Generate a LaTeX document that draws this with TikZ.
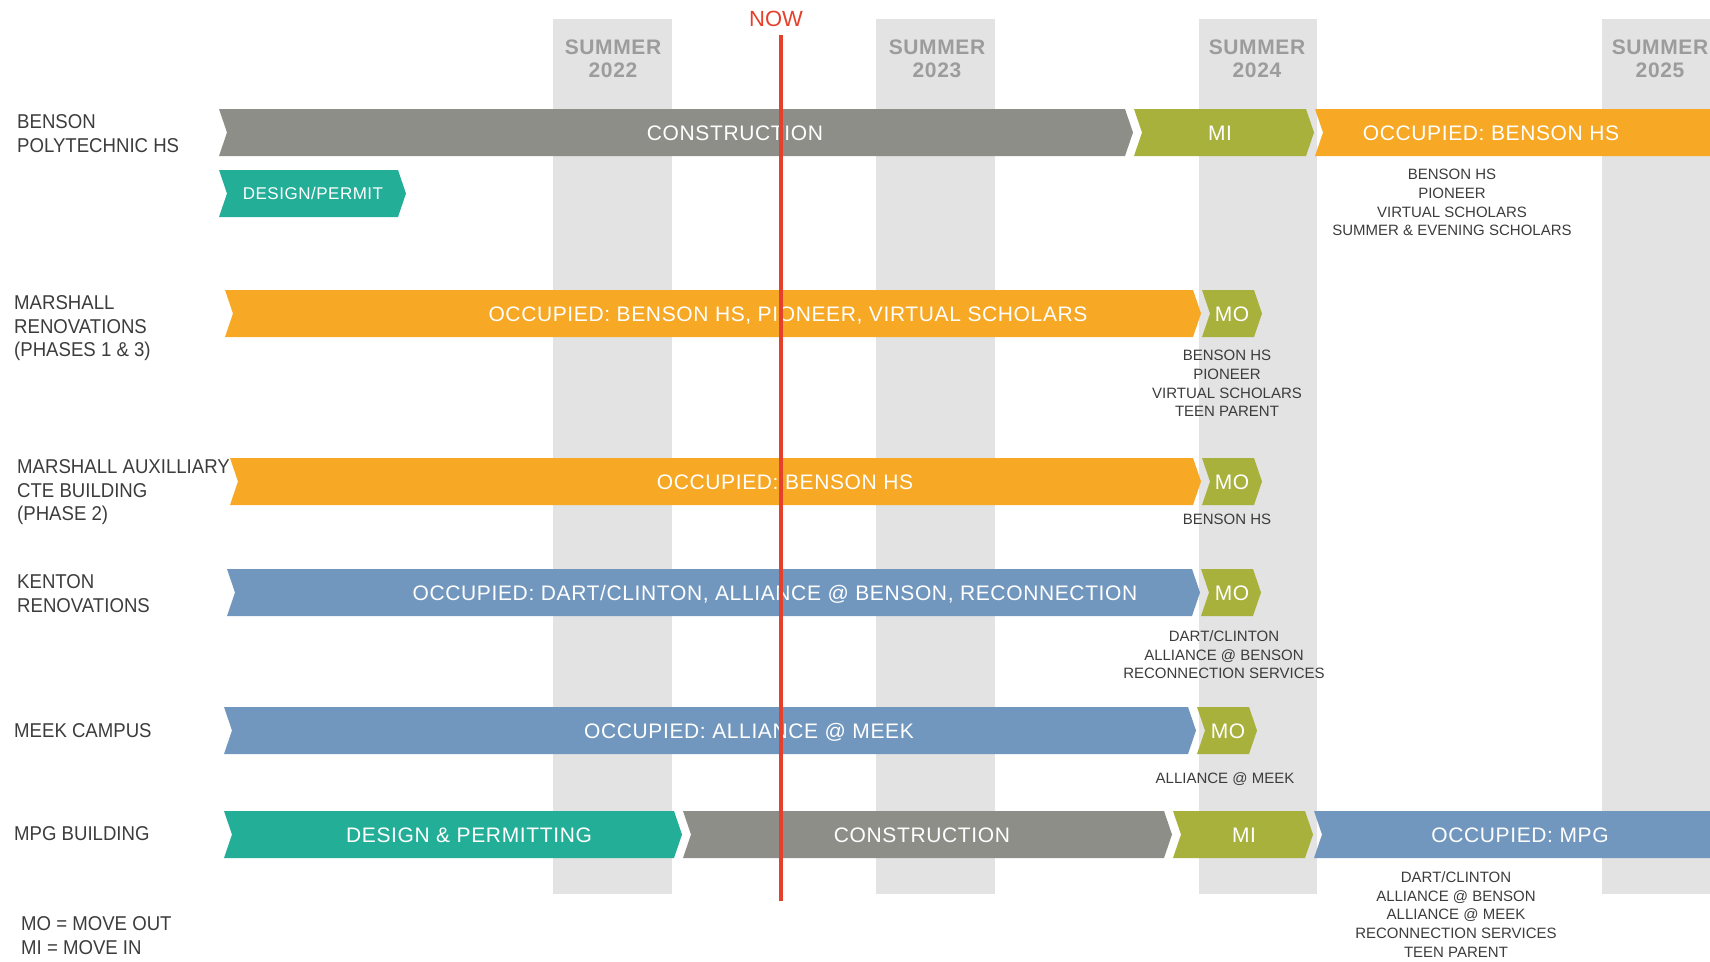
\documentclass[tikz,border=0pt]{standalone}
\usepackage{fontspec}
\setmainfont{Liberation Sans}
\newfontfamily\rowfont[FakeStretch=0.93]{Liberation Sans}
\newfontfamily\barfont[LetterSpace=3]{Liberation Sans}
\definecolor{colgray}{HTML}{E3E3E3}
\definecolor{bgray}{HTML}{8E8E89}
\definecolor{olive}{HTML}{A8B13B}
\definecolor{orange}{HTML}{F7A824}
\definecolor{teal}{HTML}{22AE97}
\definecolor{blue}{HTML}{7297BE}
\definecolor{nowred}{HTML}{E4402B}
\definecolor{txtgray}{HTML}{3C3C3C}
\definecolor{sumgray}{HTML}{9C9C9C}
\newcommand\chev[5]{%
  \fill[#1] (#2,#4) -- ({#3-8},#4) -- (#3,{(#4+#5)/2}) -- ({#3-8},#5) -- (#2,#5) -- ({#2+8},{(#4+#5)/2}) -- cycle;}
\begin{document}
\begin{tikzpicture}[x=1pt,y=-1pt,
  rowlabel/.style={anchor=north west,align=left,inner sep=0pt,text=txtgray,font=\rowfont\fontsize{20}{23.5}\selectfont},
  bartext/.style={inner sep=0pt,text=white,text height=15.3pt,text depth=0pt,anchor=center,font=\barfont\fontsize{21}{24}\selectfont},
  smallbar/.style={bartext,text height=12.4pt,font=\barfont\fontsize{17}{20}\selectfont},
  note/.style={anchor=north,align=center,inner sep=0pt,text=txtgray,font=\fontsize{15}{18.7}\selectfont},
  sumlabel/.style={anchor=north,align=center,inner sep=0pt,text=sumgray,font=\barfont\bfseries\fontsize{21}{23}\selectfont},
  col/.style={fill=colgray,draw=none},
  nowline/.style={draw=nowred,line width=4.5pt}
]
\useasboundingbox (0,0) rectangle (1710,961);
\clip (0,0) rectangle (1710,961);
% summer columns
\fill[col] (553,19) rectangle (672,894);
\fill[col] (876,19) rectangle (995,894);
\fill[col] (1199,19) rectangle (1317,894);
\fill[col] (1602,19) rectangle (1721,894);
\node[sumlabel] (s22) at (613,39.5) {SUMMER\\2022};
\node[sumlabel] (s23) at (937,39.5) {SUMMER\\2023};
\node[sumlabel] (s24) at (1257,39.5) {SUMMER\\2024};
\node[sumlabel] (s25) at (1660,39.5) {SUMMER\\2025};
% row labels
\node[rowlabel] (l1) at (17,114.8) {BENSON\\POLYTECHNIC HS};
\node[rowlabel] (l2) at (14,295.8) {MARSHALL\\RENOVATIONS\\(PHASES 1 \& 3)};
\node[rowlabel] (l3) at (17,459.8) {MARSHALL AUXILLIARY\\CTE BUILDING\\(PHASE 2)};
\node[rowlabel] (l4) at (17,574.8) {KENTON\\RENOVATIONS};
\node[rowlabel] (l5) at (14,723.8) {MEEK CAMPUS};
\node[rowlabel] (l6) at (14,826.8) {MPG BUILDING};
\node[rowlabel] (leg) at (21,916.8) {MO = MOVE OUT\\MI = MOVE IN};
% bars
\chev{bgray}{219}{1133}{109}{156}
\chev{olive}{1134}{1314}{109}{156}
\chev{orange}{1315}{1740}{109}{156}
\chev{teal}{219}{406}{170}{217}
\chev{orange}{225}{1201}{290}{337}
\chev{olive}{1202}{1262}{290}{337}
\chev{orange}{230}{1201}{458}{505}
\chev{olive}{1202}{1262}{458}{505}
\chev{blue}{227}{1200}{569}{616}
\chev{olive}{1201}{1261}{569}{616}
\chev{blue}{224}{1196}{707}{754}
\chev{olive}{1197}{1257}{707}{754}
\chev{teal}{224}{682}{811}{858}
\chev{bgray}{683}{1172}{811}{858}
\chev{olive}{1173}{1313}{811}{858}
\chev{blue}{1314}{1740}{811}{858}
% bar texts
\node[bartext] (t1a) at (735,132.5) {CONSTRUCTION};
\node[bartext] (t1b) at (1220,132.5) {MI};
\node[bartext] (t1c) at (1491,132.5) {OCCUPIED: BENSON HS};
\node[smallbar] (t1d) at (313,193.5) {DESIGN/PERMIT};
\node[bartext] (t2a) at (788,313.5) {OCCUPIED: BENSON HS, PIONEER, VIRTUAL SCHOLARS};
\node[bartext] (t2b) at (1232,313.5) {MO};
\node[bartext] (t3a) at (785,481.5) {OCCUPIED: BENSON HS};
\node[bartext] (t3b) at (1232,481.5) {MO};
\node[bartext] (t4a) at (775,592.5) {OCCUPIED: DART/CLINTON, ALLIANCE @ BENSON, RECONNECTION};
\node[bartext] (t4b) at (1232,592.5) {MO};
\node[bartext] (t5a) at (749,730.5) {OCCUPIED: ALLIANCE @ MEEK};
\node[bartext] (t5b) at (1228,730.5) {MO};
\node[bartext] (t6a) at (469,834.5) {DESIGN \& PERMITTING};
\node[bartext] (t6b) at (922,834.5) {CONSTRUCTION};
\node[bartext] (t6c) at (1244,834.5) {MI};
\node[bartext] (t6d) at (1520,834.5) {OCCUPIED: MPG};
% notes
\node[note] (n1) at (1452,169) {BENSON HS\\PIONEER\\VIRTUAL SCHOLARS\\SUMMER \& EVENING SCHOLARS};
\node[note] (n2) at (1227,350) {BENSON HS\\PIONEER\\VIRTUAL SCHOLARS\\TEEN PARENT};
\node[note] (n3) at (1227,513.5) {BENSON HS};
\node[note] (n4) at (1224,630.5) {DART/CLINTON\\ALLIANCE @ BENSON\\RECONNECTION SERVICES};
\node[note] (n5) at (1225,772) {ALLIANCE @ MEEK};
\node[note] (n6) at (1456,871.5) {DART/CLINTON\\ALLIANCE @ BENSON\\ALLIANCE @ MEEK\\RECONNECTION SERVICES\\TEEN PARENT};
% now line
\node[inner sep=0pt,text=nowred,text height=15.6pt,text depth=0pt,font=\fontsize{22}{24}\selectfont] (now) at (776,18.5) {NOW};
\coordinate (nowtop) at (781,35);
\coordinate (nowbot) at (781,901);
\draw[nowline] (nowtop) -- (nowbot);
\end{tikzpicture}
\end{document}
